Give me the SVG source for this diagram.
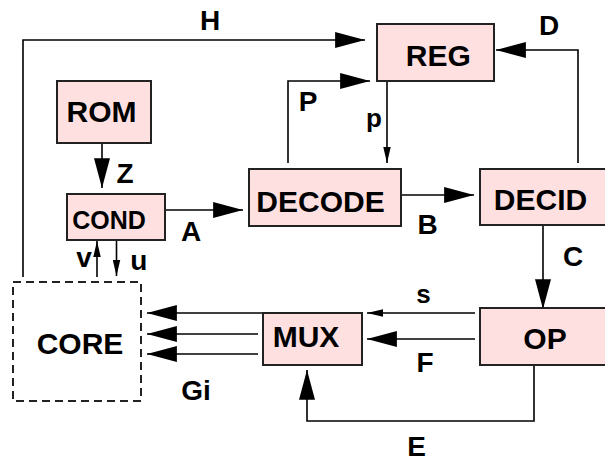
<svg xmlns="http://www.w3.org/2000/svg" width="605" height="463" viewBox="0 0 605 463">
<style>
.box{fill:#ffe0e1;stroke:#222;stroke-width:2}
.core{fill:none;stroke:#222;stroke-width:2;stroke-dasharray:8 5}
.t{font-family:"Liberation Sans",Arial,sans-serif;font-weight:bold;font-size:30px;fill:#000;text-anchor:middle}
.ts{font-size:25px}
.l{font-family:"Liberation Sans",Arial,sans-serif;font-weight:bold;font-size:28px;fill:#000;text-anchor:middle}
.lc{font-size:26px}
.c{fill:none;stroke:#000;stroke-width:1.6}
.big{marker-end:url(#ah)}
.sm{marker-end:url(#as)}
</style>
<defs>
<marker id="ah" markerUnits="userSpaceOnUse" markerWidth="30" markerHeight="16" viewBox="0 0 28 15" refX="28" refY="7.5" orient="auto">
<path d="M0,0 L28,7.5 L0,15 z" fill="#000"/>
</marker>
<marker id="as" markerUnits="userSpaceOnUse" markerWidth="16" markerHeight="8" viewBox="0 0 15 7" refX="15" refY="3.5" orient="auto">
<path d="M0,0 L15,3.5 L0,7 z" fill="#000"/>
</marker>
</defs>
<g id="connectors">
<path class="c big" d="M23,277 V40 H365"/>
<path class="c big" d="M288,163 V81 H370"/>
<path class="c big" d="M102,143 V188"/>
<path class="c big" d="M165,210 H243"/>
<path class="c sm" d="M387,81 V163"/>
<path class="c big" d="M401,195 H474"/>
<path class="c big" d="M578,163 V50 H496"/>
<path class="c big" d="M543,226 V309"/>
<path class="c sm" d="M475,313 H367"/>
<path class="c big" d="M475,339 H367"/>
<path class="c big" d="M534,365 V421 H307 V370"/>
<path class="c big" d="M263,313 H147"/>
<path class="c big" d="M258,334 H147"/>
<path class="c big" d="M258,354 H147"/>
<path class="c sm" d="M97,277 V241"/>
<path class="c sm" d="M116.5,241 V276"/>
<text class="l" x="210" y="30">H</text>
<text class="l" x="125" y="183">Z</text>
<text class="l" x="191" y="241">A</text>
<text class="l" x="308" y="111">P</text>
<text class="l lc" x="374" y="127">p</text>
<text class="l" x="549" y="35">D</text>
<text class="l" x="427.5" y="234">B</text>
<text class="l" x="573" y="266">C</text>
<text class="l lc" x="423.5" y="302.7">s</text>
<text class="l" x="425" y="371.7">F</text>
<text class="l" x="416.5" y="456">E</text>
<text class="l" x="196" y="400">Gi</text>
<text class="l ts" x="84" y="266.7">v</text>
<text class="l ts" x="138.7" y="270">u</text>
</g>
<g id="ROM"><rect class="box" x="57" y="81" width="94" height="62"/><text class="t" x="101.5" y="121.7">ROM</text></g>
<g id="COND"><rect class="box" x="67" y="194" width="98" height="46"/><text class="t ts" x="109" y="228.5">COND</text></g>
<g id="DECODE"><rect class="box" x="249" y="169" width="152" height="57"/><text class="t" x="320.5" y="211.7">DECODE</text></g>
<g id="REG"><rect class="box" x="377" y="24" width="117" height="57"/><text class="t" x="438.3" y="65.7">REG</text></g>
<g id="DECID"><rect class="box" x="480" y="169" width="140" height="56"/><text class="t" x="540.5" y="210">DECID</text></g>
<g id="OP"><rect class="box" x="480" y="308" width="140" height="57"/><text class="t" x="545" y="349">OP</text></g>
<g id="MUX"><rect class="box" x="263" y="313" width="99" height="52"/><text class="t" x="306" y="346.7">MUX</text></g>
<g id="CORE"><rect class="core" x="13" y="282" width="128" height="119"/><text class="t" x="80" y="354">CORE</text></g>
</svg>
